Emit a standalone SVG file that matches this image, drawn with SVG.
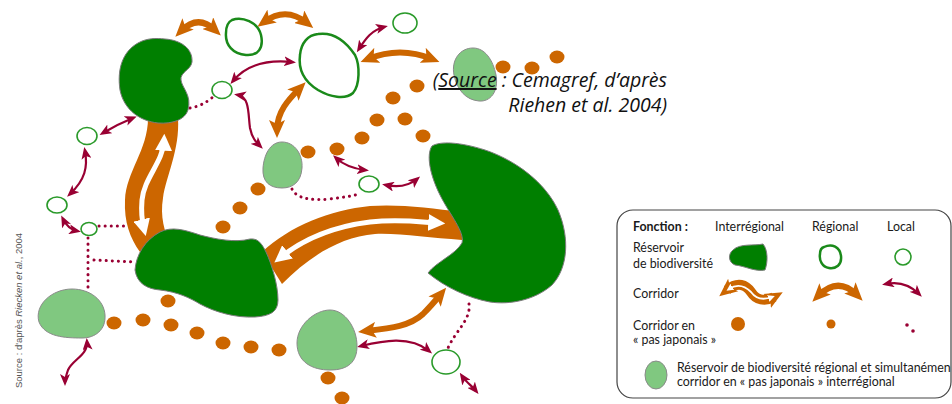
<svg xmlns="http://www.w3.org/2000/svg" width="952" height="404" viewBox="0 0 952 404">
<style>
.dg{fill:#007f00;stroke:#7a7a7a;stroke-width:1}
.lg{fill:#80c880;stroke:#8a8a8a;stroke-width:1}
.rc{fill:none;stroke:#1a8a1a;stroke-width:2.5}
.lc{fill:#fff;stroke:#2a9a2a;stroke-width:1.6}
.dot{fill:#cc6600}
.band{fill:#cc6600}
.ma{fill:none;stroke:#990033;stroke-width:2.2;marker-start:url(#hm);marker-end:url(#hm)}
.oa{fill:none;stroke:#cc6600;stroke-width:6;marker-start:url(#ho);marker-end:url(#ho)}
.wa{fill:none;stroke:#fff;stroke-width:5;marker-start:url(#hw);marker-end:url(#hw)}
.dl{fill:none;stroke:#990033;stroke-width:3;stroke-linecap:round;stroke-dasharray:0.1 6}
.lt{font-family:Lato,"Open Sans",sans-serif;font-size:12.4px;fill:#1a1a1a}
.src{font-family:"Open Sans","Noto Sans",sans-serif;font-style:italic;font-size:19.5px;fill:#111}
</style>
<defs>
<marker id="hm" viewBox="0 0 12 10" refX="8" refY="5" markerWidth="12" markerHeight="10" markerUnits="userSpaceOnUse" orient="auto-start-reverse"><path d="M0,0 L12,5 L0,10 L3,5 Z" fill="#990033"/></marker>
<marker id="ho" viewBox="0 0 18 16" refX="10" refY="8" markerWidth="18" markerHeight="16" markerUnits="userSpaceOnUse" orient="auto-start-reverse"><path d="M0,0 L18,8 L0,16 L4,8 Z" fill="#cc6600"/></marker>
<marker id="hos" viewBox="0 0 18 16" refX="8" refY="8" markerWidth="18" markerHeight="20" markerUnits="userSpaceOnUse" orient="auto-start-reverse"><path d="M0,0 L18,8 L0,16 L4,8 Z" fill="#cc6600"/></marker>
<marker id="hw" viewBox="0 0 14 14" refX="8" refY="7" markerWidth="17" markerHeight="17" markerUnits="userSpaceOnUse" orient="auto-start-reverse"><path d="M0,0 L14,7 L0,14 Z" fill="#fff"/></marker>
<marker id="hws" viewBox="0 0 14 14" refX="8" refY="7" markerWidth="7" markerHeight="7" markerUnits="userSpaceOnUse" orient="auto-start-reverse"><path d="M0,0 L14,7 L0,14 Z" fill="#fff"/></marker>
</defs>
<rect width="952" height="404" fill="#fff"/>

<g id="connectors">
  <!-- interregional corridors -->
  <path class="band" d="M148,118 C148,150 126,172 125,200 C124,222 130,238 140,252 L172,248 C164,232 160,216 163,198 C166,176 180,150 178,118 Z"/>
  <path class="wa" d="M164,141 C163,162 144,178 142,200 C141,212 142,221 144,229"/>
  <path class="band" d="M262,252 C290,226 330,210 370,206 C400,204 430,208 462,212 L462,240 C430,238 400,233 375,234 C340,237 310,256 282,284 Z"/>
  <path class="wa" d="M280,258 C302,240 330,227 370,222 C400,219 420,222 438,223"/>
  <!-- regional corridors -->
  <path class="oa" d="M181,31 Q198,14 215,30"/>
  <path class="oa" d="M264,22 Q286,6 307,23"/>
  <path class="oa" d="M368,59 Q400,46 432,59"/>
  <path class="oa" d="M300,88 C288,100 277,112 277,130"/>
  <path class="oa" d="M366,331 C392,328 410,326 423,314 C430,307 436,300 441,294"/>
  <!-- local corridors -->
  <path class="ma" d="M292,62 Q252,58 233,81"/>
  <path class="ma" d="M359,49 C366,38 372,30 384,27"/>
  <path class="ma" d="M238,95 C250,97 248,115 250,128 C252,138 256,142 260,146"/>
  <path class="ma" d="M133,118 Q118,124 103,133"/>
  <path class="ma" d="M85,151 C88,167 85,180 70,194"/>
  <path class="ma" d="M63,219 Q68,229 77,231"/>
  <path class="ma" d="M87,342 C88,355 72,360 68,370 C66,376 65,379 65,382"/>
  <path class="ma" d="M336,158 Q347,168 365,170"/>
  <path class="ma" d="M386,185 Q405,189 417,179"/>
  <path class="ma" d="M361,346 C382,341 410,335 429,351"/>
  <path class="ma" d="M462,376 C466,382 472,386 476,391"/>
  <!-- dotted links -->
  <path class="dl" d="M190,108 Q203,106 214,96"/>
  <path class="dl" d="M292,189 C296,198 310,201 330,199 C345,197 352,196 359,194"/>
  <path class="dl" d="M99,226 L124,226"/>
  <path class="dl" d="M88,238 L88,292"/>
  <path class="dl" d="M94,260 L135,262"/>
  <path class="dl" d="M469,304 C471,320 456,330 448,348"/>
</g>

<g id="pas-japonais">
  <ellipse class="dot" cx="503" cy="67" rx="7.5" ry="6.5"/>
  <ellipse class="dot" cx="532" cy="68" rx="7.5" ry="6.5"/>
  <ellipse class="dot" cx="557" cy="57" rx="7.5" ry="6.5"/>
  <ellipse class="dot" cx="417" cy="86" rx="7.5" ry="6.5"/>
  <ellipse class="dot" cx="393" cy="98" rx="7.5" ry="6.5"/>
  <ellipse class="dot" cx="377" cy="120" rx="7.5" ry="6.5"/>
  <ellipse class="dot" cx="405" cy="119" rx="7.5" ry="6.5"/>
  <ellipse class="dot" cx="362" cy="138" rx="7.5" ry="6.5"/>
  <ellipse class="dot" cx="423" cy="136" rx="7.5" ry="6.5"/>
  <ellipse class="dot" cx="308" cy="152" rx="7.5" ry="6.5"/>
  <ellipse class="dot" cx="337" cy="149" rx="7.5" ry="6.5"/>
  <ellipse class="dot" cx="258" cy="189" rx="7.5" ry="6.5"/>
  <ellipse class="dot" cx="240" cy="208" rx="7.5" ry="6.5"/>
  <ellipse class="dot" cx="223" cy="227" rx="7.5" ry="6.5"/>
  <ellipse class="dot" cx="168" cy="301" rx="7.5" ry="6.5"/>
  <ellipse class="dot" cx="114" cy="323" rx="7.5" ry="6.5"/>
  <ellipse class="dot" cx="143" cy="320" rx="7.5" ry="6.5"/>
  <ellipse class="dot" cx="171" cy="325" rx="7.5" ry="6.5"/>
  <ellipse class="dot" cx="197" cy="333" rx="7.5" ry="6.5"/>
  <ellipse class="dot" cx="223" cy="343" rx="7.5" ry="6.5"/>
  <ellipse class="dot" cx="251" cy="347" rx="7.5" ry="6.5"/>
  <ellipse class="dot" cx="279" cy="350" rx="7.5" ry="6.5"/>
  <ellipse class="dot" cx="328" cy="378" rx="7.5" ry="6.5"/>
  <ellipse class="dot" cx="342" cy="398" rx="7.5" ry="6.5"/>
</g>

<g id="reservoir-interregional-1"><path class="dg" d="M165,39 C180,40 193,48 192,62 C191,70 180,72 181,80 C182,88 192,95 188,110 C185,120 172,124 158,123 C140,121 124,110 120,90 C117,70 122,52 138,43 C147,38 156,38 165,39 Z"/></g>
<g id="reservoir-interregional-2"><path class="dg" d="M135,270 C136,255 145,240 160,232 C172,226 185,230 200,235 C215,239 235,243 250,239 C258,238 262,244 266,252 C272,265 278,285 278,300 C278,312 270,316 255,317 C235,318 215,312 200,304 C190,298 178,292 160,290 C148,289 137,284 135,270 Z"/></g>
<g id="reservoir-interregional-3"><path class="dg" d="M432,146 C440,141 460,142 485,150 C515,160 545,182 558,210 C570,238 568,268 552,285 C535,300 510,305 490,302 C468,298 445,287 428,273 C436,262 455,255 462,243 C465,232 450,215 440,195 C430,175 426,155 432,146 Z"/></g>

<g id="stepping-reservoir-a"><path class="lg" d="M473,48 C485,48 493,60 496,75 C499,92 490,102 479,101 C466,100 457,90 454,75 C451,60 460,48 473,48 Z"/></g>
<g id="stepping-reservoir-b"><path class="lg" d="M282,142 C295,142 303,155 302,168 C301,182 293,188 282,188 C270,188 262,182 263,168 C264,155 270,142 282,142 Z"/></g>
<g id="stepping-reservoir-c"><path class="lg" d="M72,289 C90,289 104,300 105,315 C106,330 95,338 82,338 C65,338 45,337 39,322 C34,305 52,289 72,289 Z"/></g>
<g id="stepping-reservoir-d"><path class="lg" d="M330,310 C345,310 357,328 357,346 C357,362 348,370 330,370 C312,370 297,362 297,343 C297,325 315,310 330,310 Z"/></g>

<g id="reservoir-regional-1"><path class="rc" d="M232,20 C242,16 258,22 261,35 C264,48 258,56 246,55 C233,54 225,45 226,33 C226,27 228,22 232,20 Z"/></g>
<g id="reservoir-regional-2"><path class="rc" d="M318,34 C332,32 345,40 355,55 C360,65 360,85 353,93 C345,100 330,97 318,90 C305,82 298,70 300,55 C301,43 308,35 318,34 Z"/></g>

<g id="reservoir-local-1"><ellipse class="lc" cx="405" cy="23" rx="12" ry="10"/></g>
<g id="reservoir-local-2"><ellipse class="lc" cx="222" cy="90" rx="10" ry="8.5"/></g>
<g id="reservoir-local-3"><ellipse class="lc" cx="87" cy="136" rx="10" ry="8.5"/></g>
<g id="reservoir-local-4"><ellipse class="lc" cx="57" cy="205" rx="10" ry="8"/></g>
<g id="reservoir-local-5"><ellipse class="lc" cx="89" cy="229" rx="8" ry="6.5"/></g>
<g id="reservoir-local-6"><ellipse class="lc" cx="369" cy="184" rx="10" ry="8"/></g>
<g id="reservoir-local-7"><ellipse class="lc" cx="446" cy="362" rx="14" ry="12"/></g>

<g id="source-caption">
  <text class="src" x="667" y="87" text-anchor="end">(<tspan text-decoration="underline">Source</tspan> : Cemagref, d’après</text>
  <text class="src" x="667" y="112" text-anchor="end">Riehen et al. 2004)</text>
</g>

<g id="side-source">
  <text transform="translate(22,388) rotate(-90)" font-family="'Liberation Sans',sans-serif" font-size="9.5" fill="#555" textLength="155" lengthAdjust="spacingAndGlyphs">Source : d'après <tspan font-style="italic">Riecken et al.</tspan>, 2004</text>
</g>

<g id="legend">
  <rect x="617" y="210" width="334" height="188" rx="16" fill="#fff" stroke="#444" stroke-width="1.2"/>
  <text class="lt" x="633" y="231" font-weight="bold">Fonction :</text>
  <text class="lt" x="715" y="231">Interrégional</text>
  <text class="lt" x="812" y="231">Régional</text>
  <text class="lt" x="887" y="231">Local</text>
  <text class="lt" x="633" y="252">Réservoir</text>
  <text class="lt" x="633" y="268">de biodiversité</text>
  <text class="lt" x="633" y="298">Corridor</text>
  <text class="lt" x="633" y="330">Corridor en</text>
  <text class="lt" x="633" y="344">« pas japonais »</text>
  <text class="lt" x="677" y="372">Réservoir de biodiversité régional et simultanémen</text>
  <text class="lt" x="677" y="386">corridor en « pas japonais » interrégional</text>
  <path class="dg" stroke="none" d="M733,250 C740,243 755,246 763,244 C768,250 768,262 765,270 C755,272 745,266 735,265 C728,262 728,254 733,250 Z"/>
  <path class="rc" d="M824,247 C832,243 840,247 841,256 C842,265 836,269 829,268 C822,267 819,260 820,254 C820,250 821,248 824,247 Z"/>
  <circle class="lc" cx="903" cy="257" r="8"/>
  <path d="M727,290 C738,281 746,285 751,292 C756,300 765,302 774,297" fill="none" stroke="#cc6600" stroke-width="10" marker-start="url(#hos)" marker-end="url(#hos)"/>
  <path d="M729,289 C738,283 746,287 751,292 C756,299 764,300 772,297" fill="none" stroke="#fff" stroke-width="1.8" marker-start="url(#hws)" marker-end="url(#hws)"/>
  <path class="oa" d="M818,296 Q838,276 857,295"/>
  <path class="ma" d="M886,284 Q905,280 919,294"/>
  <circle class="dot" cx="738" cy="324" r="7"/>
  <circle class="dot" cx="831" cy="324" r="4.5"/>
  <circle cx="907" cy="325" r="1.8" fill="#990033"/>
  <circle cx="913" cy="331" r="1.8" fill="#990033"/>
  <ellipse class="lg" cx="656" cy="375" rx="11" ry="14"/>
</g>
</svg>
